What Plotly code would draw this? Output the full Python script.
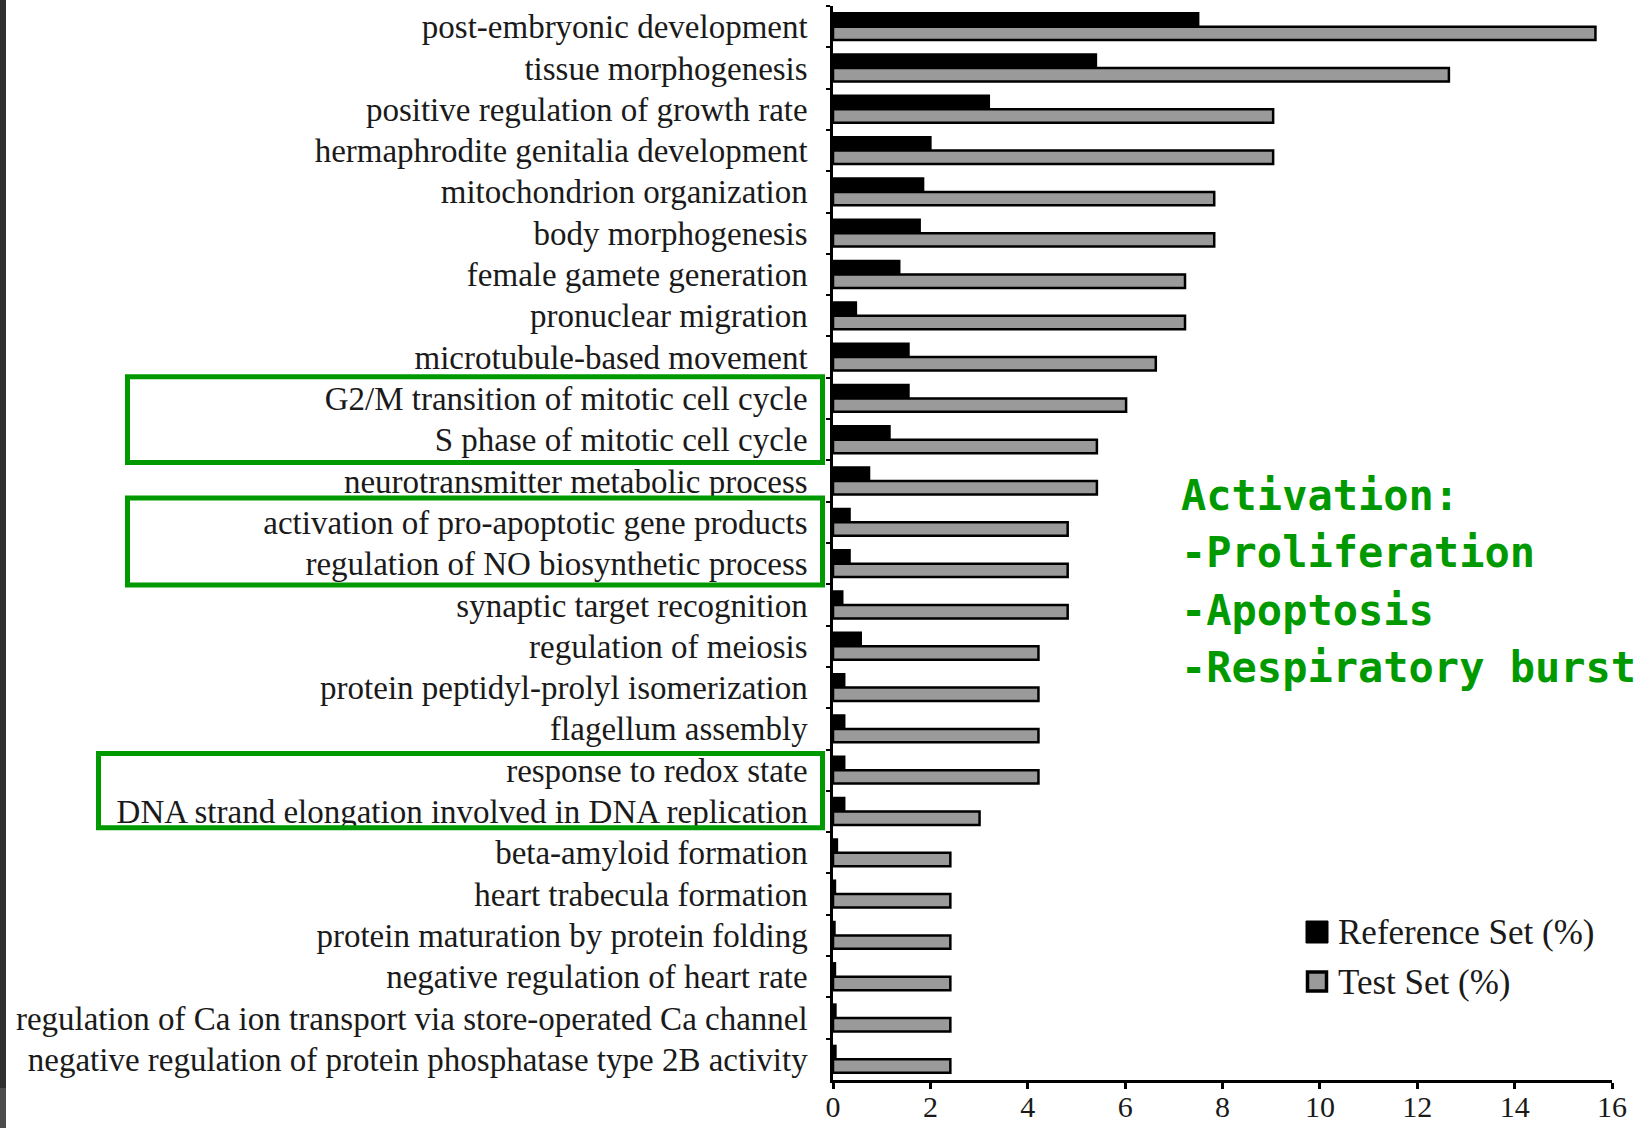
import plotly.graph_objects as go

# GO terms, top to bottom
categories = [
    "post-embryonic development",
    "tissue morphogenesis",
    "positive regulation of growth rate",
    "hermaphrodite genitalia development",
    "mitochondrion organization",
    "body morphogenesis",
    "female gamete generation",
    "pronuclear migration",
    "microtubule-based movement",
    "G2/M transition of mitotic cell cycle",
    "S phase of mitotic cell cycle",
    "neurotransmitter metabolic process",
    "activation of pro-apoptotic gene products",
    "regulation of NO biosynthetic process",
    "synaptic target recognition",
    "regulation of meiosis",
    "protein peptidyl-prolyl isomerization",
    "flagellum assembly",
    "response to redox state",
    "DNA strand elongation involved in DNA replication",
    "beta-amyloid formation",
    "heart trabecula formation",
    "protein maturation by protein folding",
    "negative regulation of heart rate",
    "regulation of Ca ion transport via store-operated Ca channel",
    "negative regulation of protein phosphatase type 2B activity",
]

reference_pct = [7.5, 5.4, 3.2, 2.0, 1.85, 1.78, 1.36, 0.47, 1.55, 1.55, 1.16, 0.74,
                 0.34, 0.34, 0.19, 0.57, 0.23, 0.23, 0.23, 0.23,
                 0.08, 0.04, 0.03, 0.04, 0.05, 0.05]
test_pct = [15.66, 12.65, 9.04, 9.04, 7.83, 7.83, 7.23, 7.23, 6.63, 6.02, 5.42, 5.42,
            4.82, 4.82, 4.82, 4.22, 4.22, 4.22, 4.22, 3.01,
            2.41, 2.41, 2.41, 2.41, 2.41, 2.41]

x_ticks = [0, 2, 4, 6, 8, 10, 12, 14, 16]

legend_names = ["Reference Set (%)", "Test Set (%)"]
note_lines = ["Activation:", "-Proliferation", "-Apoptosis", "-Respiratory burst"]

# highlighted groups of terms (first, last)
highlight_groups = [
    ("G2/M transition of mitotic cell cycle", "S phase of mitotic cell cycle"),
    ("activation of pro-apoptotic gene products", "regulation of NO biosynthetic process"),
    ("response to redox state", "DNA strand elongation involved in DNA replication"),
]

W, H = 1641, 1128
ML, MR, MT, MB = 833, 29, 6, 48
PW, PH = W - ML - MR, H - MT - MB

SERIF = "Liberation Serif, Times New Roman, serif"
GREEN = "#009a00"


def px_x(p):
    return (p - ML) / PW


def px_y(p):
    return (H - MB - p) / PH


def band_edge(idx):
    # pixel y of the top edge of the category band idx
    return MT + PH * idx / len(categories)


fig = go.Figure()
fig.add_trace(go.Bar(
    y=categories, x=reference_pct, orientation="h", name=legend_names[0],
    marker=dict(color="#000000", line=dict(color="#000000", width=2.5)),
    showlegend=False,
))
fig.add_trace(go.Bar(
    y=categories, x=test_pct, orientation="h", name=legend_names[1],
    marker=dict(color="#9a9a9a", line=dict(color="#000000", width=2.5)),
    showlegend=False,
))

shapes = []
# dark strip along the left edge
shapes.append(dict(type="rect", xref="paper", yref="paper",
                   x0=px_x(0), x1=px_x(6), y0=px_y(0), y1=px_y(1088),
                   fillcolor="#2f2f2f", line=dict(width=0), layer="above"))
shapes.append(dict(type="rect", xref="paper", yref="paper",
                   x0=px_x(0), x1=px_x(6), y0=px_y(1088), y1=px_y(H),
                   fillcolor="#4c4c4c", line=dict(width=0), layer="above"))

# green frames around highlighted terms
box_left = [127.5, 127.5, 98.5]
box_pad = [(-1, 2), (-3.7, 0.7), (4, -4.3)]
for (first, last), left, (pt, pb) in zip(highlight_groups, box_left, box_pad):
    i0, i1 = categories.index(first), categories.index(last)
    top = band_edge(i0) + pt
    bot = band_edge(i1 + 1) + pb
    shapes.append(dict(type="rect", xref="paper", yref="paper",
                       x0=px_x(left), x1=px_x(822.5), y0=px_y(top), y1=px_y(bot),
                       line=dict(color=GREEN, width=5), fillcolor="rgba(0,0,0,0)",
                       layer="above"))

# legend swatches
shapes.append(dict(type="rect", xref="paper", yref="paper",
                   x0=px_x(1306), x1=px_x(1328), y0=px_y(921), y1=px_y(943),
                   fillcolor="#000000", line=dict(color="#000000", width=1)))
shapes.append(dict(type="rect", xref="paper", yref="paper",
                   x0=px_x(1307.5), x1=px_x(1326.5), y0=px_y(972), y1=px_y(991),
                   fillcolor="#9a9a9a", line=dict(color="#000000", width=3.5)))

annotations = []
for name, cy in zip(legend_names, [932, 982]):
    annotations.append(dict(xref="paper", yref="paper", x=px_x(1336), y=px_y(cy),
                            xanchor="left", yanchor="middle", showarrow=False,
                            text=name, font=dict(family=SERIF, size=35, color="#1a1a1a")))

for k, line in enumerate(note_lines):
    annotations.append(dict(xref="paper", yref="paper", x=px_x(1179), y=px_y(495 + 57.5 * k),
                            xanchor="left", yanchor="middle", showarrow=False,
                            text="<b>" + line + "</b>",
                            font=dict(family="DejaVu Sans Mono, monospace", size=42, color=GREEN)))

fig.update_layout(
    width=W, height=H,
    margin=dict(l=ML, r=MR, t=MT, b=MB, pad=0, autoexpand=False),
    paper_bgcolor="#ffffff", plot_bgcolor="#ffffff",
    barmode="group", bargap=0.35, bargroupgap=0.0,
    shapes=shapes, annotations=annotations,
    font=dict(family=SERIF, color="#1a1a1a"),
)
fig.update_xaxes(
    range=[0, 16], tickvals=x_ticks, ticktext=[str(v) for v in x_ticks],
    showgrid=False, zeroline=False, automargin=False,
    showline=True, linecolor="#000000", linewidth=2.5,
    ticks="outside", ticklen=6, tickwidth=2.5, tickcolor="#000000",
    ticklabelstandoff=-8,
    tickfont=dict(family=SERIF, size=30, color="#1a1a1a"),
)
fig.update_yaxes(
    type="category", categoryorder="array", categoryarray=categories,
    autorange="reversed", showgrid=False, zeroline=False, automargin=False,
    showline=True, linecolor="#000000", linewidth=2.5,
    ticks="outside", ticklen=4, tickwidth=2, tickcolor="#000000", tickson="boundaries",
    ticklabelstandoff=16,
    tickfont=dict(family=SERIF, size=33, color="#1a1a1a"),
)

fig.write_html("out.html")
